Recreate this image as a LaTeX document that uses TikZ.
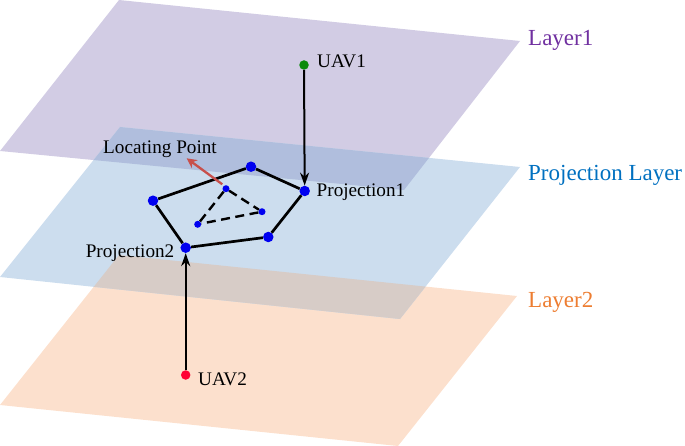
\documentclass[tikz,border=0pt]{standalone}
\usepackage{fontspec}
\setmainfont{Liberation Serif}
\usetikzlibrary{arrows.meta}
\definecolor{purpleplane}{HTML}{D2CCE4}
\definecolor{blueplane}{HTML}{CCDDEE}
\definecolor{orangeplane}{HTML}{FCE0CD}
\definecolor{pbover}{HTML}{B0BEDD}
\definecolor{boover}{HTML}{D7CCC7}
\definecolor{layerone}{HTML}{7030A0}
\definecolor{layerproj}{HTML}{0070C0}
\definecolor{layertwo}{HTML}{ED7D31}
\definecolor{locred}{HTML}{C8504C}
\definecolor{dotblue}{HTML}{0000F0}
\definecolor{dotgreen}{HTML}{0A8A0A}
\definecolor{dotred}{HTML}{FF0033}
\tikzset{
  bigdot/.style={circle,fill=dotblue,draw=none,minimum size=10.5pt,inner sep=0pt},
  smalldot/.style={circle,fill=dotblue,draw=none,minimum size=7pt,inner sep=0pt},
  uavdot/.style={circle,draw=none,minimum size=9.5pt,inner sep=0pt},
  lab/.style={inner sep=0pt,font=\fontsize{19.2}{21}\selectfont,text=black},
  laylab/.style={inner sep=0pt,anchor=west,font=\fontsize{23}{25}\selectfont},
  edgeline/.style={line width=2.7pt,black},
  dashline/.style={line width=2.4pt,black,dash pattern=on 9pt off 5.5pt},
  proj/.style={line width=2pt,black,-{Stealth[length=13pt,width=9pt]}},
  locarrow/.style={line width=2.3pt,locred,-{Stealth[length=10pt,width=10pt]}}
}
\begin{document}
\begin{tikzpicture}[x=1pt,y=-1pt]
\useasboundingbox (0,0) rectangle (685,446);
% planes
\fill[purpleplane] (119,0) -- (520,41) -- (404,190) -- (0,151) -- cycle;
\fill[orangeplane] (119,255) -- (517,296) -- (398,446) -- (0,405) -- cycle;
\fill[blueplane] (120,127) -- (520,167) -- (400,319) -- (0,277) -- cycle;
\begin{scope}
  \clip (119,0) -- (520,41) -- (404,190) -- (0,151) -- cycle;
  \fill[pbover] (120,127) -- (520,167) -- (400,319) -- (0,277) -- cycle;
\end{scope}
\begin{scope}
  \clip (119,255) -- (517,296) -- (398,446) -- (0,405) -- cycle;
  \fill[boover] (120,127) -- (520,167) -- (400,319) -- (0,277) -- cycle;
\end{scope}
% points
\node[bigdot] (p1) at (304.7,191) {};
\node[bigdot] (ptop) at (251,166.7) {};
\node[bigdot] (pleft) at (153,200.7) {};
\node[bigdot] (p2) at (185.7,247.7) {};
\node[bigdot] (pright) at (268.3,237) {};
\node[smalldot] (ia) at (226,188.7) {};
\node[smalldot] (ib) at (262,211.7) {};
\node[smalldot] (ic) at (197.7,224.3) {};
\node[uavdot,fill=dotgreen] (uav1) at (304,65) {};
\node[uavdot,fill=dotred] (uav2) at (185.7,375) {};
\coordinate (locstart) at (222.3,184.3);
\coordinate (locend) at (186.7,158.3);
% connectors
\draw[edgeline] (p1) -- (ptop);
\draw[edgeline] (ptop) -- (pleft);
\draw[edgeline] (pleft) -- (p2);
\draw[edgeline] (p2) -- (pright);
\draw[edgeline] (pright) -- (p1);
\draw[dashline] (ia) -- (ib);
\draw[dashline] (ib) -- (ic);
\draw[dashline] (ic) -- (ia);
\draw[proj] (uav1) -- (p1);
\draw[proj] (uav2) -- (p2);
\draw[locarrow] (locstart) -- (locend);
% labels
\node[lab,anchor=west] (tuav1) at (317,61) {UAV1};
\node[lab,anchor=west] (tuav2) at (198,379) {UAV2};
\node[lab,anchor=west] (tp1) at (316.5,192) {Projection1};
\node[lab,anchor=east] (tp2) at (174.5,253) {Projection2};
\node[lab] (tloc) at (160,149) {Locating Point};
\node[laylab,text=layerone] (l1) at (528,40) {Layer1};
\node[laylab,text=layerproj] (lp) at (528,175) {Projection Layer};
\node[laylab,text=layertwo] (l2) at (528,302) {Layer2};
\end{tikzpicture}
\end{document}
